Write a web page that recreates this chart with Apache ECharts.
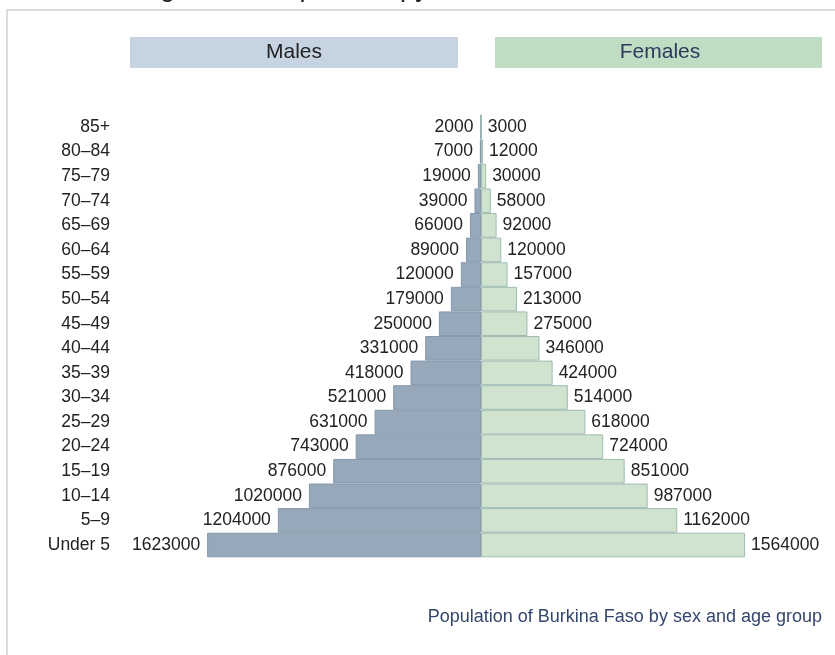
<!DOCTYPE html>
<html>
<head>
<meta charset="utf-8">
<script src="https://cdn.jsdelivr.net/npm/echarts@6/dist/echarts.min.js"></script>
<style>html,body{margin:0;padding:0;background:#fff}#c{width:835px;height:655px}</style>
</head>
<body>
<div id="c"></div>
<script>
var ageGroups = ['85+','80–84','75–79','70–74','65–69','60–64','55–59','50–54','45–49','40–44','35–39','30–34','25–29','20–24','15–19','10–14','5–9','Under 5'];
var males = [2000,7000,19000,39000,66000,89000,120000,179000,250000,331000,418000,521000,631000,743000,876000,1020000,1204000,1623000];
var females = [3000,12000,30000,58000,92000,120000,157000,213000,275000,346000,424000,514000,618000,724000,851000,987000,1162000,1564000];

var chart = echarts.init(document.getElementById('c'), null, {renderer:'canvas'});
var font = 'Liberation Sans, Arial, sans-serif';
chart.setOption({
  animation: false,
  textStyle: {fontFamily: font},
  graphic: [
    {type:'rect', z:-1, shape:{x:7, y:10, width:900, height:700}, style:{fill:'#fff', stroke:'#dcdcdc', lineWidth:2}},
    {type:'text', x:142, y:-25, style:{text:'Age-sex composition pyramid', fontSize:27, fontFamily:font, fill:'#222', verticalAlign:'top'}},
    {type:'rect', shape:{x:130, y:37, width:328, height:31}, style:{fill:'#c6d3e0'}},
    {type:'rect', shape:{x:495, y:37, width:327, height:31}, style:{fill:'#c0dcc2'}},
    {type:'text', x:294, y:52, style:{text:'Males', fontSize:21, fontFamily:font, fill:'#222', align:'center', verticalAlign:'middle'}},
    {type:'text', x:660, y:52, style:{text:'Females', fontSize:21, fontFamily:font, fill:'#2b3a5e', align:'center', verticalAlign:'middle'}},
    {type:'text', x:822, y:617, style:{text:'Population of Burkina Faso by sex and age group', fontSize:18, fontFamily:font, fill:'#34466e', align:'right', verticalAlign:'middle'}}
  ],
  grid: {left:130, width:692, top:114.7, height:442.6, containLabel:false},
  xAxis: {type:'value', min:-2080000, max:2020000, show:false},
  yAxis: {type:'category', data:ageGroups, inverse:true,
    axisLine:{show:false}, axisTick:{show:false},
    axisLabel:{margin:20, fontSize:17.5, color:'#222', fontFamily:font}},
  series: [
    {type:'bar', name:'Males', data:males.map(function(v){return -v;}), barCategoryGap:0, barGap:'-100%',
      itemStyle:{color:'#96a8b9', borderColor:'#8698ab', borderWidth:1},
      label:{show:true, position:'left', distance:7, fontSize:17.5, color:'#222', fontFamily:font,
        formatter:function(p){return Math.abs(p.value);}}},
    {type:'bar', name:'Females', data:females, barCategoryGap:0, barGap:'-100%',
      itemStyle:{color:'#cfe3ce', borderColor:'#9fbcb3', borderWidth:1},
      label:{show:true, position:'right', distance:6, fontSize:17.5, color:'#222', fontFamily:font}}
  ]
});
</script>
</body>
</html>
